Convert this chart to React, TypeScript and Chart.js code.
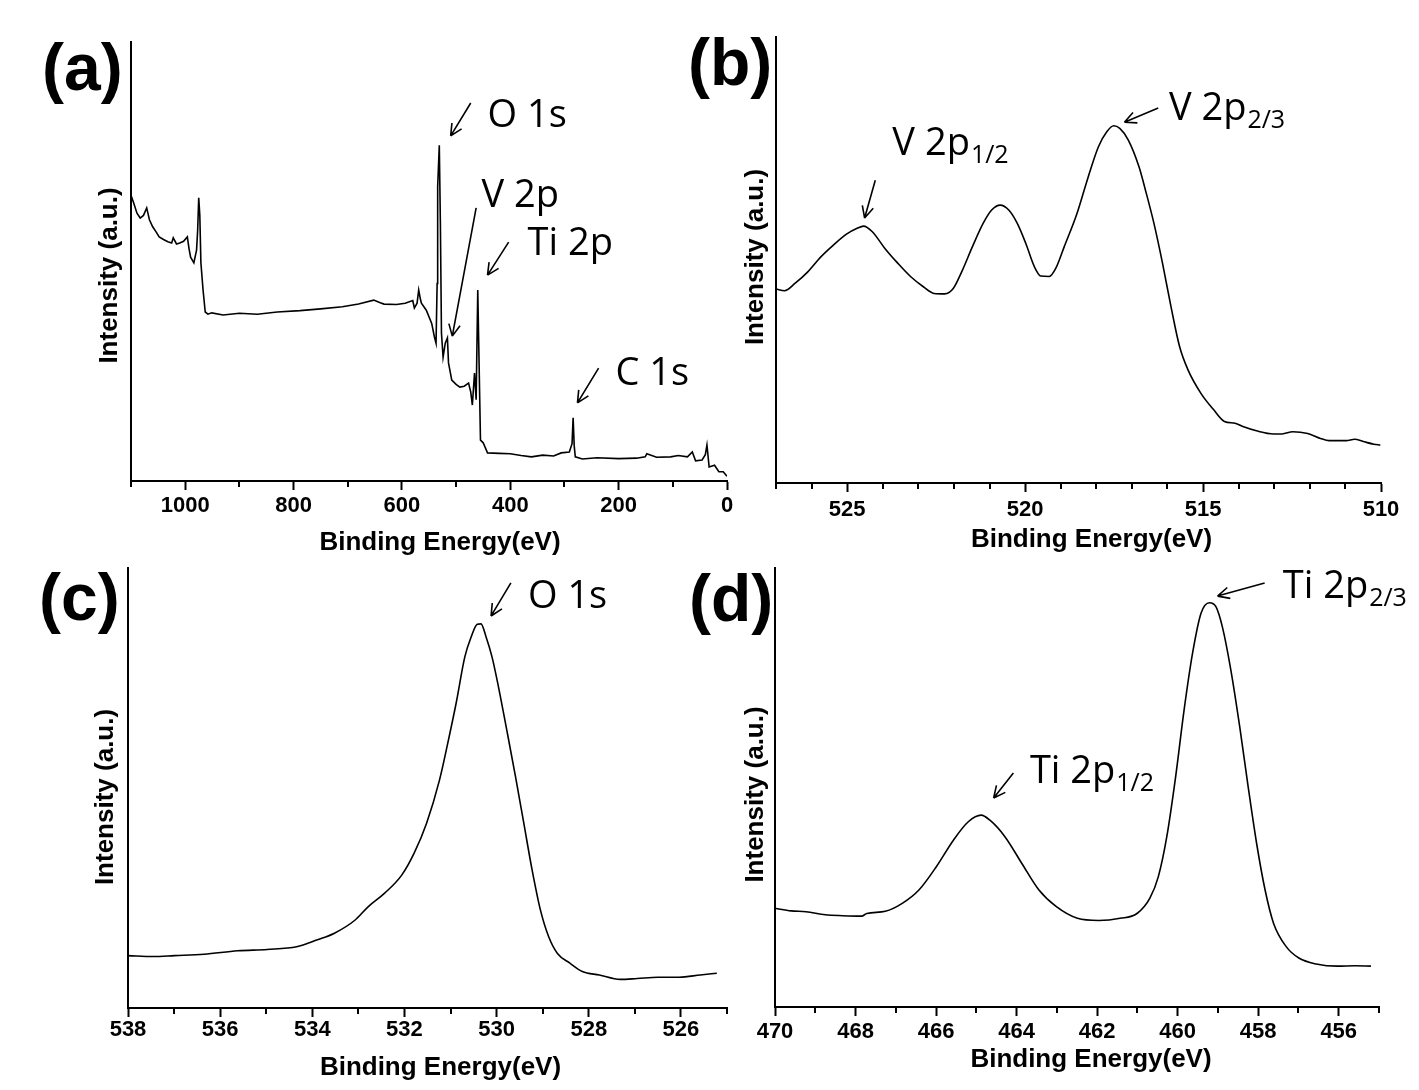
import React, { useEffect, useRef } from "react";
import { Chart, registerables } from "chart.js";
Chart.register(...registerables);

// ---------- (a) survey spectrum ----------
const surveyEnergy = [
  1100, 1095, 1089, 1083, 1077, 1071, 1066, 1060, 1054, 1048, 1040, 1032, 1025, 1022, 1016, 1010, 1003, 996, 993, 990,
  984, 979, 977, 975, 973, 971, 967, 963, 958, 951, 930, 900, 867, 830, 788, 750, 710, 680, 652, 640,
  633, 610, 594, 580, 577, 572, 569, 566, 564, 555, 545, 540, 537, 535, 534, 531, 529, 527, 524, 520,
  516, 514, 508, 500, 493, 485, 477, 473, 470, 466, 463, 460, 458, 455, 450, 442, 420, 400, 380, 361,
  340, 320, 306, 291, 286, 284, 282, 280, 267, 240, 200, 167, 151, 148, 130, 104, 90, 73, 64, 58,
  46, 40, 37, 33, 23, 15, 7, 0,
];
const surveyIntensity = [
  65.1, 63.3, 61.0, 59.9, 60.5, 62.2, 59.5, 57.9, 56.8, 55.6, 55.0, 54.5, 54.2, 55.4, 54.0, 54.2, 54.6, 55.6, 53.0, 51.0,
  49.7, 52.6, 57.0, 64.5, 60.5, 49.7, 43.5, 38.5, 38.0, 38.3, 37.8, 38.2, 38.0, 38.5, 38.8, 39.2, 39.7, 40.3, 41.2, 40.6,
  40.3, 40.2, 40.5, 41.1, 39.4, 40.5, 43.5, 41.5, 40.5, 38.9, 35.9, 32.8, 31.4, 45.0, 67.0, 76.5, 58.8, 33.7, 28.2, 31.4,
  32.6, 26.9, 23.0, 22.0, 21.4, 21.6, 22.3, 20.3, 17.3, 24.6, 18.5, 43.5, 29.8, 9.3, 8.7, 6.4, 6.3, 6.2, 5.8, 5.5,
  5.9, 5.7, 6.4, 6.6, 8.5, 14.4, 8.0, 5.5, 5.0, 5.3, 5.1, 5.2, 5.5, 6.2, 5.4, 5.5, 5.8, 5.5, 6.6, 4.6,
  4.8, 6.0, 8.2, 3.2, 3.6, 2.1, 2.1, 1.1,
];

// ---------- (b) V 2p ----------
const v2pEnergy = [
  527.0, 526.76, 526.46, 526.1, 525.74, 525.38, 525.02, 524.72, 524.54, 524.3, 523.94, 523.58, 523.22, 522.86, 522.56,
  522.26, 522.02, 521.78, 521.48, 521.18, 520.94, 520.7, 520.46, 520.22, 519.98, 519.74, 519.56, 519.32, 519.14, 518.9,
  518.54, 518.24, 517.94, 517.7, 517.51, 517.34, 517.1, 516.8, 516.62, 516.38, 516.14, 515.9, 515.66, 515.42, 515.06,
  514.7, 514.4, 514.1, 513.86, 513.5, 513.02, 512.78, 512.48, 512.06, 511.7, 511.46, 510.98, 510.74, 510.5, 510.2, 510.02,
];
const v2pIntensity = [
  43.5, 43.1, 44.8, 47.4, 50.7, 53.4, 55.8, 57.1, 57.6, 56.4, 52.6, 49.3, 46.3, 44.0, 42.5,
  42.4, 43.6, 47.4, 53.0, 58.2, 61.2, 62.3, 61.2, 58.2, 53.7, 48.5, 46.4, 46.3, 48.1, 53.0,
  60.5, 68.3, 75.4, 78.8, 80.1, 79.5, 76.9, 70.9, 65.7, 58.2, 49.3, 39.5, 30.6, 25.3, 20.1,
  16.4, 13.8, 13.4, 12.6, 11.7, 11.0, 11.0, 11.5, 11.1, 10.0, 9.5, 9.5, 9.8, 9.3, 8.7, 8.5,
];

// ---------- (c) O 1s ----------
const o1sEnergy = [
  538.0, 537.45, 536.99, 536.35, 535.62, 534.98, 534.34, 533.89, 533.52, 533.07, 532.79, 532.43, 532.06, 531.79,
  531.52, 531.24, 531.06, 530.88, 530.69, 530.55, 530.42, 530.34, 530.23, 530.1, 529.96, 529.78, 529.59, 529.41,
  529.23, 529.05, 528.87, 528.68, 528.41, 528.14, 527.77, 527.32, 526.95, 526.5, 526.04, 525.58, 525.22,
];
const o1sIntensity = [
  11.9, 11.7, 11.9, 12.2, 13.0, 13.3, 13.9, 15.5, 17.0, 20.0, 23.0, 26.1, 30.2, 35.2,
  42.0, 51.8, 60.2, 69.2, 79.8, 84.4, 87.2, 87.3, 84.4, 79.8, 73.0, 63.2, 52.6, 42.0,
  31.4, 22.3, 16.2, 12.4, 10.2, 8.3, 7.5, 6.5, 6.7, 7.0, 7.0, 7.5, 7.9,
];

// ---------- (d) Ti 2p ----------
const ti2pEnergy = [
  470.0, 469.6, 469.23, 468.75, 468.32, 467.85, 467.72, 467.26, 466.84, 466.42, 465.99, 465.57, 465.2, 464.88, 464.67,
  464.29, 463.87, 463.45, 463.02, 462.49, 461.96, 461.43, 461.01, 460.69, 460.48, 460.27, 460.05, 459.84, 459.63, 459.42,
  459.21, 459.05, 458.89, 458.68, 458.46, 458.25, 458.04, 457.83, 457.62, 457.3, 456.98, 456.56, 456.03, 455.6, 455.2,
];
const ti2pIntensity = [
  22.5, 21.9, 21.7, 21.0, 20.8, 20.7, 21.3, 21.8, 23.6, 26.7, 32.0, 38.0, 42.2, 43.7, 42.6,
  38.8, 32.7, 26.7, 22.9, 20.2, 19.7, 20.2, 21.3, 24.8, 29.7, 38.8, 52.5, 67.7, 80.6, 89.7,
  92.1, 91.2, 86.6, 76.8, 63.9, 50.2, 37.3, 26.7, 19.1, 13.7, 11.1, 9.8, 9.3, 9.4, 9.3,
];

// ---------- peak labels (data coordinates) ----------
type Note = { text: string; sub?: string; x: number; y: number };
type Arrow = { from: [number, number]; to: [number, number] };

const notesA: Note[] = [
  { text: "O 1s", x: 442, y: 80.6 },
  { text: "V 2p", x: 453, y: 62.4 },
  { text: "Ti 2p", x: 368, y: 51.5 },
  { text: "C 1s", x: 206, y: 21.9 },
];
const arrowsA: Arrow[] = [
  { from: [473, 86.1], to: [510, 78.6] },
  { from: [463, 62.2], to: [507, 33.0] },
  { from: [403, 54.4], to: [442, 46.9] },
  { from: [237, 25.7], to: [276, 17.8] },
];
const notesB: Note[] = [
  { text: "V 2p", sub: "1/2", x: 523.73, y: 73.5 },
  { text: "V 2p", sub: "2/3", x: 515.96, y: 81.4 },
];
const arrowsB: Arrow[] = [
  { from: [524.21, 67.9], to: [524.51, 59.4] },
  { from: [516.26, 84.1], to: [517.21, 80.9] },
];
const notesC: Note[] = [{ text: "O 1s", x: 529.32, y: 90.9 }];
const arrowsC: Arrow[] = [{ from: [529.69, 96.6], to: [530.12, 89.1] }];
const notesD: Note[] = [
  { text: "Ti 2p", sub: "2/3", x: 457.39, y: 93.2 },
  { text: "Ti 2p", sub: "1/2", x: 463.67, y: 51.0 },
];
const arrowsD: Arrow[] = [
  { from: [457.84, 96.6], to: [459.01, 93.6] },
  { from: [464.08, 53.3], to: [464.57, 47.6] },
];

const X_TITLE = "Binding Energy(eV)";
const Y_TITLE = "Intensity (a.u.)";

type Panel = {
  label: string;
  labelPos: [number, number];
  area: { l: number; t: number; r: number; b: number };
  xMin: number;
  xMax: number;
  step: number;
  major: number;
  energy: number[];
  intensity: number[];
  smooth: boolean;
  tickPad: number;
  xTitle: { dx: number; dy: number };
  yTitle: { dx: number; dy: number };
  notes: Note[];
  arrows: Arrow[];
};

const panels: Panel[] = [
  {
    label: "(a)", labelPos: [42, 34], area: { l: 131, t: 42, r: 727, b: 481 },
    xMin: 0, xMax: 1100, step: 100, major: 200,
    energy: surveyEnergy, intensity: surveyIntensity, smooth: false, tickPad: 3,
    xTitle: { dx: 11, dy: 62 }, yTitle: { dx: 21, dy: 14 },
    notes: notesA, arrows: arrowsA,
  },
  {
    label: "(b)", labelPos: [688, 29], area: { l: 776, t: 37, r: 1381, b: 483 },
    xMin: 510, xMax: 527, step: 1, major: 5,
    energy: v2pEnergy, intensity: v2pIntensity, smooth: true, tickPad: 5,
    xTitle: { dx: 13, dy: 57 }, yTitle: { dx: 20, dy: -3 },
    notes: notesB, arrows: arrowsB,
  },
  {
    label: "(c)", labelPos: [39, 564], area: { l: 128, t: 568, r: 727, b: 1008 },
    xMin: 525, xMax: 538, step: 1, major: 2,
    energy: o1sEnergy, intensity: o1sIntensity, smooth: true, tickPad: 0,
    xTitle: { dx: 13, dy: 60 }, yTitle: { dx: 22, dy: 9 },
    notes: notesC, arrows: arrowsC,
  },
  {
    label: "(d)", labelPos: [689, 565], area: { l: 775, t: 568, r: 1379, b: 1007 },
    xMin: 455, xMax: 470, step: 1, major: 2,
    energy: ti2pEnergy, intensity: ti2pIntensity, smooth: true, tickPad: 3,
    xTitle: { dx: 14, dy: 53 }, yTitle: { dx: 19, dy: 7 },
    notes: notesD, arrows: arrowsD,
  },
];

const Y_AXIS_W = 70;
const PAD_TOP = 10;
const PAD_RIGHT = 40;
const X_AXIS_H = 85;
const BOLD_FONT = '"Liberation Sans", Arial, sans-serif';
const NOTE_FONT = '"Open Sans", "Noto Sans", sans-serif';

function isMajor(v: number, major: number) {
  return Math.abs(Math.round(v) % major) === 0;
}

function PanelChart({ p }: { p: Panel }) {
  const ref = useRef<HTMLCanvasElement>(null);
  const w = p.area.r - p.area.l + Y_AXIS_W + PAD_RIGHT;
  const h = p.area.b - p.area.t + PAD_TOP + X_AXIS_H;

  useEffect(() => {
    const canvas = ref.current;
    if (!canvas) return;
    const decor = {
      id: "xpsDecor",
      afterDraw(chart: any) {
        const { ctx, chartArea: ca, scales } = chart;
        const xs = scales.x;
        const ys = scales.y;
        ctx.save();
        // minor ticks
        ctx.strokeStyle = "#000";
        ctx.lineWidth = 2;
        xs.ticks.forEach((t: any) => {
          if (!isMajor(t.value, p.major)) {
            const px = Math.round(xs.getPixelForValue(t.value));
            ctx.beginPath();
            ctx.moveTo(px, ca.bottom);
            ctx.lineTo(px, ca.bottom + 6);
            ctx.stroke();
          }
        });
        // axis titles
        ctx.fillStyle = "#000";
        ctx.font = `bold 26px ${BOLD_FONT}`;
        ctx.textAlign = "center";
        ctx.textBaseline = "middle";
        ctx.fillText(X_TITLE, (ca.left + ca.right) / 2 + p.xTitle.dx, ca.bottom + p.xTitle.dy);
        ctx.save();
        ctx.translate(ca.left - p.yTitle.dx, (ca.top + ca.bottom) / 2 + p.yTitle.dy);
        ctx.rotate(-Math.PI / 2);
        ctx.fillText(Y_TITLE, 0, 0);
        ctx.restore();
        // peak labels
        ctx.textAlign = "left";
        ctx.textBaseline = "alphabetic";
        p.notes.forEach((n) => {
          const x = xs.getPixelForValue(n.x);
          const y = ys.getPixelForValue(n.y);
          ctx.font = `38px ${NOTE_FONT}`;
          ctx.fillText(n.text, x, y);
          if (n.sub) {
            const tw = ctx.measureText(n.text).width;
            ctx.font = `25px ${NOTE_FONT}`;
            ctx.fillText(n.sub, x + tw + 1, y + 8);
          }
        });
        // arrows
        ctx.lineWidth = 1.6;
        p.arrows.forEach((a) => {
          const x1 = xs.getPixelForValue(a.from[0]);
          const y1 = ys.getPixelForValue(a.from[1]);
          const x2 = xs.getPixelForValue(a.to[0]);
          const y2 = ys.getPixelForValue(a.to[1]);
          const ang = Math.atan2(y2 - y1, x2 - x1);
          ctx.beginPath();
          ctx.moveTo(x1, y1);
          ctx.lineTo(x2, y2);
          for (const s of [-1, 1]) {
            const a2 = ang + Math.PI + s * 0.45;
            ctx.moveTo(x2, y2);
            ctx.lineTo(x2 + 13 * Math.cos(a2), y2 + 13 * Math.sin(a2));
          }
          ctx.stroke();
        });
        ctx.restore();
      },
    };

    const chart = new Chart(canvas, {
      type: "line",
      data: {
        datasets: [
          {
            data: p.energy.map((e, i) => ({ x: e, y: p.intensity[i] })),
            borderColor: "#000",
            borderWidth: 1.6,
            pointRadius: 0,
            fill: false,
            tension: p.smooth ? 0.4 : 0,
            cubicInterpolationMode: p.smooth ? "monotone" : "default",
          } as any,
        ],
      },
      options: {
        animation: false,
        responsive: false,
        devicePixelRatio: 1,
        events: [],
        layout: { padding: { left: 0, top: PAD_TOP, right: PAD_RIGHT, bottom: 0 } },
        plugins: { legend: { display: false }, tooltip: { enabled: false }, title: { display: false } },
        scales: {
          x: {
            type: "linear",
            reverse: true,
            min: p.xMin,
            max: p.xMax,
            afterFit: (s: any) => {
              s.height = X_AXIS_H;
            },
            border: { display: true, color: "#000", width: 2 },
            grid: {
              display: true,
              drawOnChartArea: false,
              drawTicks: true,
              tickLength: 9,
              tickWidth: 2,
              tickColor: (c: any) => (c.tick && isMajor(c.tick.value, p.major) ? "#000" : "rgba(0,0,0,0)"),
            },
            ticks: {
              stepSize: p.step,
              autoSkip: false,
              maxRotation: 0,
              minRotation: 0,
              padding: p.tickPad,
              color: "#000",
              font: { family: BOLD_FONT, size: 22, weight: "bold" },
              callback: (v: any) => (isMajor(Number(v), p.major) ? String(v) : ""),
            },
            title: { display: false },
          },
          y: {
            type: "linear",
            min: 0,
            max: 100,
            afterFit: (s: any) => {
              s.width = Y_AXIS_W;
            },
            border: { display: true, color: "#000", width: 2 },
            grid: { display: false },
            ticks: { display: false },
            title: { display: false },
          },
        },
      } as any,
      plugins: [decor],
    });
    return () => chart.destroy();
  }, [p]);

  return (
    <canvas
      ref={ref}
      width={w}
      height={h}
      style={{ position: "absolute", left: p.area.l - Y_AXIS_W, top: p.area.t - PAD_TOP, width: w, height: h }}
    />
  );
}

export default function App() {
  return (
    <div
      style={{
        position: "absolute",
        left: 0,
        top: 0,
        width: 1419,
        height: 1090,
        overflow: "hidden",
        background: "#fff",
      }}
    >
      {panels.map((p) => (
        <PanelChart key={p.label} p={p} />
      ))}
      {panels.map((p) => (
        <div
          key={"lbl" + p.label}
          style={{
            position: "absolute",
            left: p.labelPos[0],
            top: p.labelPos[1],
            font: `bold 66px ${BOLD_FONT}`,
            lineHeight: "66px",
            whiteSpace: "nowrap",
            color: "#000",
          }}
        >
          {p.label}
        </div>
      ))}
    </div>
  );
}
